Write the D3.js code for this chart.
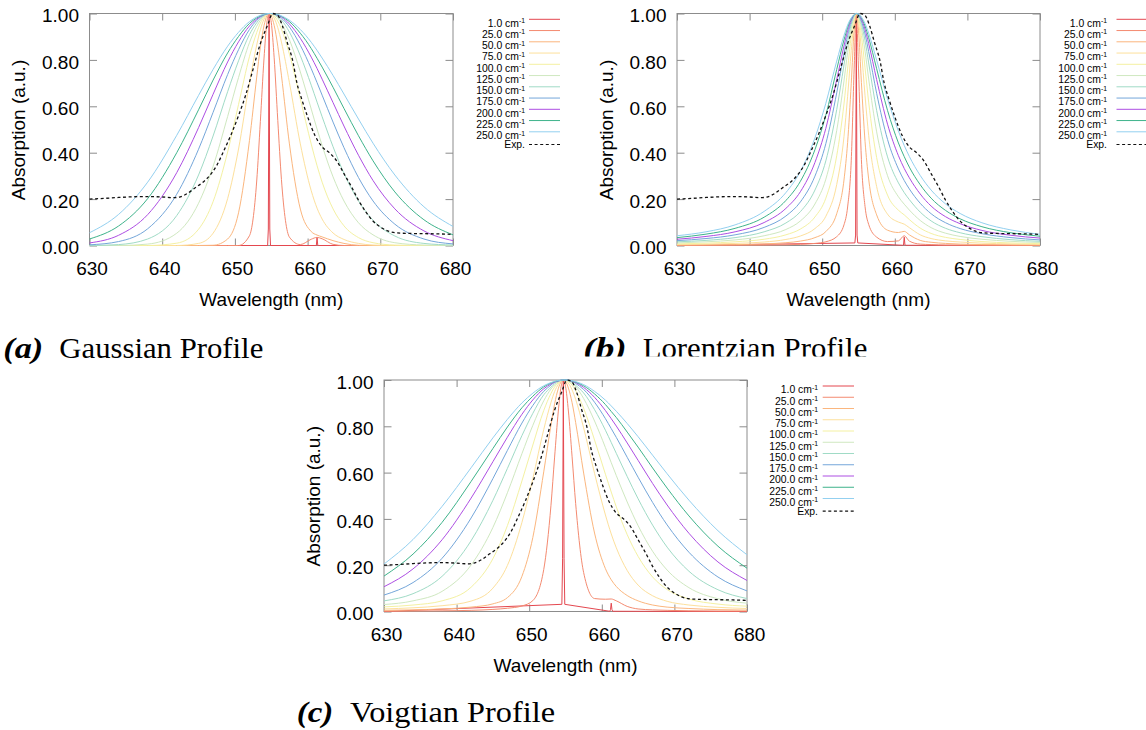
<!DOCTYPE html>
<html>
<head>
<meta charset="utf-8">
<script src="https://cdn.jsdelivr.net/npm/d3@7/dist/d3.min.js"></script>
<style>
  html, body { margin: 0; padding: 0; background: #ffffff; }
  svg { display: block; }
</style>
</head>
<body>
<svg id="fig" width="1146" height="730"></svg>
<script>
// ---------------- data ----------------
// wavelength grid (nm) of the broadened line shapes
const wavelengths = [630,634,638,642,645,647,649,650.5,652,653,653.5,654,654.4,654.7,655,655.4,655.9,656.4,657.5,659,660.5,661.3,662,663.5,665,667,669,672,676,680];
// finer grid around the two lines, used for the 1.0 cm-1 width
const narrowWavelengths = [630,654.5,654.6,654.7,654.8,654.9,661.1,661.2,661.3,661.4,661.5,680];

const widthLabels = ["1.0","25.0","50.0","75.0","100.0","125.0","150.0","175.0","200.0","225.0","250.0"];

// measured spectrum
const expWavelengths = [630,632,634,636,638,640,641.5,642.5,643.5,644.5,645.5,646.5,647.5,648.5,649.5,650.5,651.5,652.5,653.5,654.5,655.2,655.8,656.5,657.2,658,658.5,659.2,660,661,662,663,664,665,666,667,668,669,670,671,672,674,676,678,680];
const expAbsorption = [0.200,0.203,0.207,0.210,0.211,0.209,0.206,0.210,0.225,0.248,0.270,0.300,0.345,0.410,0.480,0.560,0.650,0.760,0.870,0.950,1.000,0.995,0.950,0.875,0.790,0.705,0.630,0.555,0.475,0.425,0.400,0.365,0.310,0.255,0.195,0.145,0.105,0.080,0.063,0.055,0.052,0.051,0.050,0.048];

// Gaussian profiles
const gauss1   = [0,0,0.071,1,0.071,0,0,0,0.035,0,0,0];
const gauss25  = [0,0,0,0,0,0,0,0,0.042,0.278,0.534,0.804,0.962,1,0.962,0.809,0.539,0.285,0.036,0.004,0.027,0.035,0.029,0.005,0,0,0,0,0,0];
const gauss50  = [0,0,0,0,0,0.001,0.028,0.141,0.452,0.726,0.855,0.947,0.990,1,0.990,0.949,0.859,0.734,0.438,0.157,0.060,0.045,0.037,0.021,0.009,0.001,0,0,0,0];
const gauss75  = [0,0,0,0,0.009,0.053,0.202,0.416,0.700,0.864,0.930,0.975,0.996,1,0.997,0.980,0.939,0.877,0.702,0.438,0.236,0.161,0.114,0.054,0.026,0.009,0.002,0,0,0];
const gauss100 = [0,0,0,0.010,0.070,0.189,0.403,0.608,0.814,0.918,0.958,0.984,0.997,1,0.999,0.990,0.967,0.933,0.825,0.632,0.437,0.344,0.273,0.158,0.085,0.034,0.012,0.002,0,0];
const gauss125 = [0,0,0.006,0.053,0.182,0.341,0.556,0.724,0.874,0.945,0.971,0.989,0.997,1,0.999,0.995,0.981,0.958,0.887,0.748,0.588,0.502,0.431,0.296,0.192,0.098,0.046,0.012,0.002,0];
const gauss150 = [0,0.004,0.028,0.129,0.304,0.472,0.663,0.796,0.909,0.960,0.979,0.992,0.998,1,1,0.996,0.987,0.972,0.920,0.818,0.691,0.618,0.555,0.426,0.311,0.192,0.109,0.041,0.009,0.002];
const gauss175 = [0.003,0.017,0.072,0.221,0.415,0.574,0.737,0.844,0.931,0.970,0.984,0.994,0.998,1,1,0.998,0.991,0.980,0.942,0.863,0.762,0.702,0.648,0.532,0.422,0.293,0.192,0.092,0.028,0.007];
const gauss200 = [0.011,0.044,0.133,0.314,0.508,0.652,0.791,0.878,0.946,0.976,0.987,0.995,0.999,1,1,0.998,0.993,0.985,0.955,0.893,0.812,0.763,0.717,0.616,0.515,0.389,0.280,0.158,0.063,0.021];
const gauss225 = [0.028,0.084,0.202,0.400,0.585,0.713,0.830,0.901,0.957,0.981,0.990,0.996,0.999,1,1,0.999,0.995,0.988,0.965,0.915,0.849,0.807,0.769,0.682,0.591,0.473,0.365,0.231,0.111,0.046];
const gauss250 = [0.055,0.134,0.273,0.475,0.647,0.759,0.859,0.919,0.965,0.985,0.992,0.997,0.999,1,1,0.999,0.996,0.990,0.971,0.931,0.876,0.841,0.808,0.733,0.653,0.545,0.441,0.304,0.167,0.082];

// Lorentzian profiles
const lorentz1   = [0,0.011,0.045,1,0.045,0.011,0.001,0.002,0.036,0.002,0.001,0];
const lorentz25  = [0.0005,0.0007,0.001,0.0018,0.003,0.005,0.009,0.016,0.038,0.089,0.166,0.365,0.761,1,0.761,0.370,0.168,0.091,0.036,0.017,0.020,0.042,0.019,0.006,0.004,0.002,0.002,0.001,0.001,0.001];
const lorentz50  = [0.002,0.003,0.004,0.007,0.012,0.019,0.034,0.060,0.137,0.282,0.444,0.697,0.928,1,0.928,0.703,0.449,0.287,0.132,0.066,0.056,0.061,0.046,0.022,0.014,0.009,0.006,0.004,0.003,0.002];
const lorentz75  = [0.004,0.006,0.009,0.015,0.026,0.041,0.073,0.126,0.263,0.469,0.643,0.840,0.966,1,0.967,0.842,0.646,0.475,0.254,0.135,0.101,0.092,0.077,0.046,0.030,0.020,0.015,0.010,0.007,0.005];
const lorentz100 = [0.007,0.010,0.016,0.027,0.046,0.071,0.123,0.204,0.387,0.610,0.761,0.902,0.981,1,0.981,0.905,0.766,0.618,0.379,0.217,0.152,0.132,0.112,0.075,0.052,0.035,0.026,0.017,0.011,0.008];
const lorentz125 = [0.011,0.016,0.024,0.042,0.069,0.106,0.179,0.286,0.496,0.709,0.832,0.934,0.987,1,0.988,0.938,0.838,0.718,0.490,0.301,0.210,0.178,0.153,0.108,0.077,0.053,0.039,0.027,0.018,0.013];
const lorentz150 = [0.016,0.022,0.034,0.059,0.097,0.146,0.239,0.365,0.586,0.778,0.877,0.953,0.991,1,0.992,0.957,0.883,0.787,0.582,0.382,0.270,0.228,0.198,0.144,0.106,0.074,0.055,0.038,0.025,0.018];
const lorentz175 = [0.021,0.030,0.046,0.078,0.127,0.188,0.299,0.439,0.658,0.826,0.906,0.965,0.993,1,0.994,0.968,0.912,0.836,0.656,0.457,0.330,0.280,0.244,0.182,0.137,0.098,0.073,0.051,0.034,0.024];
const lorentz200 = [0.027,0.039,0.059,0.099,0.160,0.232,0.358,0.505,0.715,0.860,0.926,0.972,0.995,1,0.996,0.976,0.932,0.871,0.715,0.523,0.387,0.332,0.292,0.222,0.170,0.124,0.094,0.065,0.044,0.032];
const lorentz225 = [0.034,0.049,0.074,0.122,0.194,0.277,0.413,0.562,0.759,0.886,0.940,0.978,0.995,1,0.997,0.982,0.946,0.896,0.762,0.582,0.442,0.383,0.338,0.262,0.204,0.151,0.115,0.081,0.055,0.040];
const lorentz250 = [0.042,0.059,0.089,0.147,0.228,0.320,0.464,0.613,0.795,0.905,0.950,0.981,0.996,1,0.998,0.985,0.957,0.915,0.799,0.632,0.493,0.431,0.384,0.302,0.239,0.179,0.138,0.098,0.067,0.048];

// Voigtian profiles
const voigt1   = [0,0.031,0.230,1,0.230,0.031,0.001,0.008,0.036,0.008,0.001,0];
const voigt25  = [0.001,0.002,0.003,0.005,0.009,0.014,0.024,0.047,0.181,0.459,0.667,0.862,0.973,1,0.973,0.866,0.671,0.466,0.168,0.056,0.053,0.054,0.046,0.022,0.011,0.007,0.005,0.003,0.002,0.002];
const voigt50  = [0.005,0.007,0.011,0.019,0.033,0.060,0.152,0.320,0.603,0.806,0.897,0.962,0.993,1,0.994,0.965,0.903,0.816,0.598,0.339,0.185,0.137,0.108,0.069,0.046,0.028,0.019,0.013,0.008,0.006];
const voigt75  = [0.011,0.016,0.025,0.045,0.101,0.199,0.385,0.574,0.786,0.903,0.950,0.981,0.996,1,0.998,0.986,0.958,0.916,0.793,0.597,0.417,0.335,0.275,0.177,0.114,0.068,0.044,0.028,0.018,0.013];
const voigt100 = [0.020,0.028,0.046,0.105,0.228,0.371,0.564,0.719,0.868,0.942,0.970,0.988,0.997,1,0.999,0.993,0.978,0.954,0.878,0.741,0.593,0.516,0.452,0.332,0.238,0.149,0.095,0.054,0.032,0.023];
const voigt125 = [0.030,0.046,0.087,0.201,0.363,0.513,0.682,0.804,0.910,0.961,0.979,0.992,0.998,1,1,0.996,0.986,0.971,0.920,0.823,0.708,0.643,0.587,0.473,0.371,0.260,0.179,0.103,0.055,0.036];
const voigt150 = [0.046,0.077,0.152,0.306,0.480,0.618,0.760,0.856,0.936,0.969,0.984,0.994,0.998,1,1,0.997,0.990,0.977,0.944,0.872,0.783,0.730,0.683,0.583,0.487,0.373,0.278,0.174,0.094,0.056];
const voigt175 = [0.071,0.125,0.230,0.404,0.574,0.696,0.814,0.890,0.951,0.978,0.990,0.996,0.999,1,1,0.999,0.995,0.985,0.959,0.904,0.833,0.790,0.752,0.666,0.580,0.471,0.374,0.256,0.149,0.089];
const voigt200 = [0.107,0.184,0.310,0.490,0.647,0.753,0.852,0.914,0.962,0.983,0.991,0.996,0.999,1,1,0.999,0.995,0.989,0.968,0.925,0.868,0.833,0.801,0.728,0.653,0.553,0.460,0.338,0.214,0.134];
const voigt225 = [0.153,0.248,0.385,0.562,0.704,0.797,0.880,0.930,0.970,0.987,0.993,0.997,0.999,1,1,0.999,0.996,0.991,0.975,0.940,0.894,0.864,0.838,0.775,0.710,0.620,0.533,0.413,0.282,0.187];
const voigt250 = [0.205,0.311,0.454,0.621,0.750,0.830,0.901,0.943,0.975,0.989,0.994,0.998,0.999,1,1,0.999,0.997,0.993,0.980,0.951,0.913,0.888,0.865,0.812,0.755,0.675,0.595,0.481,0.349,0.245];

const xTicks = [630, 640, 650, 660, 670, 680];
const yTicks = [0, 0.2, 0.4, 0.6, 0.8, 1.0];

// ---------------- styling ----------------
const lineColors = ["#e4474f","#f48a70","#fbb67e","#fde09c","#f4f1a2","#cfe8c0","#a0dbc6","#74a6da","#ad4ee3","#3eb38b","#93d0f0"];
const frameColor = "#8c8c8c";
const sansFont = '"Liberation Sans", Arial, sans-serif';
const serifFont = '"Liberation Serif", "Times New Roman", serif';

const panels = [
  { narrow: gauss1, broad: [gauss25,gauss50,gauss75,gauss100,gauss125,gauss150,gauss175,gauss200,gauss225,gauss250],
    left: 89.5, right: 453, top: 13.5, bottom: 245.5,
    legend: { textX: 525, lineX1: 529, lineX2: 560, y0: 19.3 },
    caption: { tag: "(a)", tagX: 3.3, tagW: 40, name: "Gaussian Profile", nameX: 59.3, nameW: 204, base: 357.5 } },
  { narrow: lorentz1, broad: [lorentz25,lorentz50,lorentz75,lorentz100,lorentz125,lorentz150,lorentz175,lorentz200,lorentz225,lorentz250],
    left: 677, right: 1040, top: 13.5, bottom: 245.5,
    legend: { textX: 1107, lineX1: 1116.5, lineX2: 1148, y0: 19.3 },
    caption: { tag: "(b)", tagX: 583.3, tagW: 43.4, name: "Lorentzian Profile", nameX: 642.7, nameW: 224.6, base: 358.3, clip: true } },
  { narrow: voigt1, broad: [voigt25,voigt50,voigt75,voigt100,voigt125,voigt150,voigt175,voigt200,voigt225,voigt250],
    left: 384, right: 747, top: 380, bottom: 611.5,
    legend: { textX: 818, lineX1: 822.7, lineX2: 854, y0: 386 },
    caption: { tag: "(c)", tagX: 296.7, tagW: 36.6, name: "Voigtian Profile", nameX: 350, nameW: 205, base: 722 } }
];

const svg = d3.select("#fig");
svg.append("rect").attr("width", 1146).attr("height", 730).attr("fill", "#ffffff");

// the upper right sub-figure is cut just below its caption line
svg.append("defs").append("clipPath").attr("id", "upperRow")
  .append("rect").attr("x", 0).attr("y", 0).attr("width", 1146).attr("height", 356.5);

panels.forEach(drawPanel);

function styleAxis(sel) {
  sel.attr("font-family", sansFont).attr("font-size", 19);
  sel.select(".domain").remove();
  sel.selectAll(".tick line").attr("stroke", frameColor).attr("stroke-width", 1);
  sel.selectAll(".tick text").attr("fill", "#000000");
}

function drawPanel(p) {
  const g = svg.append("g");
  const x = d3.scaleLinear().domain([630, 680]).range([p.left, p.right]);
  const y = d3.scaleLinear().domain([0, 1]).range([p.bottom, p.top]);

  // frame
  g.append("rect")
    .attr("x", p.left).attr("y", p.top)
    .attr("width", p.right - p.left).attr("height", p.bottom - p.top)
    .attr("fill", "none").attr("stroke", frameColor).attr("stroke-width", 1);

  // axes with inward ticks on all four sides
  g.append("g").attr("transform", `translate(0,${p.bottom})`)
    .call(d3.axisBottom(x).tickValues(xTicks).tickSize(-7).tickPadding(16).tickFormat(d3.format("d")))
    .call(styleAxis)
    .selectAll(".tick text").attr("dx", 2);
  g.append("g").attr("transform", `translate(0,${p.top})`)
    .call(d3.axisTop(x).tickValues(xTicks).tickSize(-7).tickFormat(""))
    .call(styleAxis);
  g.append("g").attr("transform", `translate(${p.left},0)`)
    .call(d3.axisLeft(y).tickValues(yTicks).tickSize(-7.5).tickPadding(10.5).tickFormat(d3.format(".2f")))
    .call(styleAxis)
    .selectAll(".tick text").attr("dy", "0.43em");
  g.append("g").attr("transform", `translate(${p.right},0)`)
    .call(d3.axisRight(y).tickValues(yTicks).tickSize(-7.5).tickFormat(""))
    .call(styleAxis);

  // axis titles
  g.append("text")
    .attr("transform", `translate(${p.left - 64.5},${(p.top + p.bottom) / 2 + 0.5}) rotate(-90)`)
    .attr("text-anchor", "middle")
    .attr("font-family", sansFont).attr("font-size", 19).attr("fill", "#000")
    .text("Absorption (a.u.)");
  g.append("text")
    .attr("x", (p.left + p.right) / 2).attr("y", p.bottom + 60.5)
    .attr("text-anchor", "middle")
    .attr("font-family", sansFont).attr("font-size", 19).attr("fill", "#000")
    .text("Wavelength (nm)");

  // profiles
  const curves = g.append("g");
  const narrowLine = d3.line()
    .x((d, i) => x(narrowWavelengths[i])).y(d => y(d))
    .curve(d3.curveLinear);
  const broadLine = d3.line()
    .x((d, i) => x(wavelengths[i])).y(d => y(d))
    .curve(d3.curveMonotoneX);

  curves.append("path").datum(p.narrow)
    .attr("d", narrowLine)
    .attr("fill", "none").attr("stroke", lineColors[0]).attr("stroke-width", 1);
  p.broad.forEach((s, k) => {
    curves.append("path").datum(s)
      .attr("d", broadLine)
      .attr("fill", "none").attr("stroke", lineColors[k + 1]).attr("stroke-width", 1);
  });

  const expLine = d3.line()
    .x((d, i) => x(expWavelengths[i])).y(d => y(d))
    .curve(d3.curveMonotoneX);
  curves.append("path").datum(expAbsorption)
    .attr("d", expLine)
    .attr("fill", "none").attr("stroke", "#111111")
    .attr("stroke-width", 1.3).attr("stroke-dasharray", "3,2.6");

  // legend
  const L = p.legend;
  const leg = g.append("g").attr("font-family", sansFont).attr("font-size", 10.4).attr("fill", "#000");
  widthLabels.forEach((lab, i) => {
    const ly = L.y0 + i * 11.25;
    const t = leg.append("text").attr("x", L.textX).attr("y", ly + 7.4).attr("text-anchor", "end");
    t.append("tspan").text(lab + " cm");
    t.append("tspan").attr("font-size", 6.8).attr("dy", -3.6).text("-1");
    leg.append("line")
      .attr("x1", L.lineX1).attr("x2", L.lineX2).attr("y1", ly).attr("y2", ly)
      .attr("stroke", lineColors[i]).attr("stroke-width", 1);
  });
  const ey = L.y0 + 10 * 11.25 + 12.7;
  leg.append("text").attr("x", L.textX).attr("y", ey + 3.4).attr("text-anchor", "end").text("Exp.");
  leg.append("line")
    .attr("x1", L.lineX1).attr("x2", L.lineX2).attr("y1", ey).attr("y2", ey)
    .attr("stroke", "#111111").attr("stroke-width", 1.2).attr("stroke-dasharray", "3,2.6");

  // caption
  const c = p.caption;
  const cap = svg.append("g");
  if (c.clip) cap.attr("clip-path", "url(#upperRow)");
  cap.append("text")
    .attr("x", c.tagX).attr("y", c.base)
    .attr("font-family", serifFont).attr("font-size", 30)
    .attr("font-weight", "bold").attr("font-style", "italic")
    .attr("textLength", c.tagW).attr("lengthAdjust", "spacingAndGlyphs")
    .attr("fill", "#000").text(c.tag);
  cap.append("text")
    .attr("x", c.nameX).attr("y", c.base)
    .attr("font-family", serifFont).attr("font-size", 30)
    .attr("textLength", c.nameW).attr("lengthAdjust", "spacingAndGlyphs")
    .attr("fill", "#000").text(c.name);
}
</script>
</body>
</html>
